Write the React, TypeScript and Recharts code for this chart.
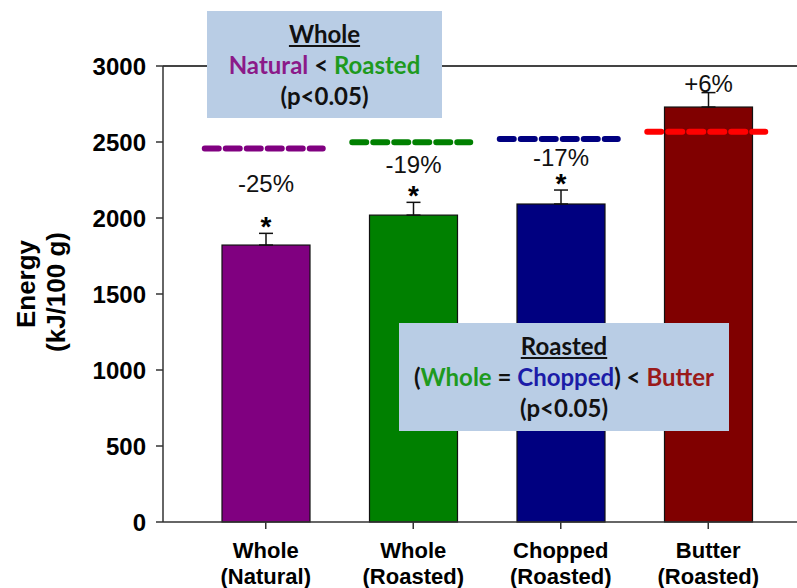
import React from 'react';
import { ComposedChart, Bar, XAxis, YAxis, ErrorBar, Scatter, ReferenceLine, Cell } from 'recharts';

// ---- data ----
const categoryTop = ['Whole', 'Whole', 'Chopped', 'Butter'];
const categoryBottom = ['(Natural)', '(Roasted)', '(Roasted)', '(Roasted)'];
const energyValues = [1822, 2019, 2092, 2730];
const semValues = [77, 84, 92, 95];
const referenceValues = [2458, 2498, 2519, 2568];
const changeLabels = ['-25%', '-19%', '-17%', '+6%'];
const significant = [true, true, true, false];
const yTicks = [0, 500, 1000, 1500, 2000, 2500, 3000];

// ---- styles ----
const barColors = ['#800080', '#008000', '#000080', '#800000'];
const refColors = ['#800080', '#008000', '#000080', '#ff0000'];
const AXIS_FONT = '"Liberation Sans", Arial, sans-serif';
const BOX_FONT = 'Lato, "Open Sans", sans-serif';

const data = categoryTop.map((c, i) => ({
  name: `${c} ${categoryBottom[i]}`,
  top: c,
  bottom: categoryBottom[i],
  energy: energyValues[i],
  err: [0, semValues[i]],
  sem: semValues[i],
  ref: referenceValues[i],
  change: changeLabels[i],
  sig: significant[i],
  idx: i,
}));

const XTick = (props: any) => {
  const { x, y, payload } = props;
  const d = data.find((e) => e.name === payload.value);
  return (
    <text textAnchor="middle" fontFamily={AXIS_FONT} fontWeight="bold" fontSize={22} fill="#000">
      <tspan x={x} y={y + 27}>{d?.top}</tspan>
      <tspan x={x} y={y + 53}>{d?.bottom}</tspan>
    </text>
  );
};

const BarShape = (props: any) => {
  const { x, y, width, height, payload } = props;
  const unit = height / payload.energy;
  const base = y + height;
  const toPix = (v: number) => base - v * unit;
  const capY = toPix(payload.energy + payload.sem);
  const refY = toPix(payload.ref);
  const cx = x + width / 2;
  let pctY: number;
  let star = null;
  if (payload.sig) {
    const starBase = capY + 3;
    const starCenter = starBase - 16;
    pctY = (refY + starCenter) / 2 + 7.5;
    star = (
      <text x={cx} y={starBase} textAnchor="middle" fontFamily={AXIS_FONT} fontWeight="bold" fontSize={28} fill="#000">*</text>
    );
  } else {
    pctY = capY - 1;
  }
  return (
    <g>
      <rect x={x} y={y} width={width} height={height} fill={barColors[payload.idx]} stroke="#111" strokeWidth={1.2} />
      {star}
      <text x={cx} y={pctY} textAnchor="middle" fontFamily={AXIS_FONT} fontSize={24} fill="#111">{payload.change}</text>
    </g>
  );
};

const RefShape = (props: any) => {
  const { cx, cy, payload } = props;
  return (
    <line
      x1={cx - 61}
      x2={cx + 57}
      y1={cy}
      y2={cy}
      stroke={refColors[payload.idx]}
      strokeWidth={6}
      strokeDasharray="14 7"
      strokeLinecap="round"
    />
  );
};

const YLabel = () => (
  <g>
    <text
      x={26}
      y={284}
      transform="rotate(-90, 26, 284)"
      textAnchor="middle"
      dominantBaseline="central"
      fontFamily={AXIS_FONT}
      fontWeight="bold"
      fontSize={26}
      fill="#000"
    >
      Energy
    </text>
    <text
      x={56}
      y={292}
      transform="rotate(-90, 56, 292)"
      textAnchor="middle"
      dominantBaseline="central"
      fontFamily={AXIS_FONT}
      fontWeight="bold"
      fontSize={26}
      fill="#000"
    >
      (kJ/100 g)
    </text>
  </g>
);

const boxStyle: React.CSSProperties = {
  position: 'absolute',
  background: '#b9cde5',
  fontFamily: BOX_FONT,
  fontWeight: 700,
  fontSize: 24,
  textAlign: 'center',
  color: '#111',
  boxSizing: 'border-box',
  paddingTop: 7,
  lineHeight: '31px',
};

export default function App() {
  return (
    <div style={{ position: 'absolute', left: 0, top: 0, width: 797, height: 588, overflow: 'hidden', background: '#fff' }}>
      <ComposedChart width={840} height={588} data={data} margin={{ top: 66, right: 0, bottom: 0, left: 0 }}>
        <XAxis
          dataKey="name"
          type="category"
          height={66}
          padding={{ left: 29, right: 58 }}
          tickSize={7}
          tick={<XTick />}
          axisLine={{ stroke: '#333', strokeWidth: 1.5 }}
          tickLine={{ stroke: '#333', strokeWidth: 1.5 }}
          interval={0}
        />
        <YAxis
          width={163}
          domain={[0, 3000]}
          ticks={yTicks}
          tickSize={7}
          tickMargin={10}
          tick={{ fontFamily: AXIS_FONT, fontWeight: 'bold', fontSize: 24, fill: '#000' }}
          axisLine={{ stroke: '#333', strokeWidth: 1.5 }}
          tickLine={{ stroke: '#333', strokeWidth: 1.5 }}
          label={<YLabel />}
        />
        <ReferenceLine y={3000} stroke="#444" strokeWidth={2} />
        <Bar dataKey="energy" barSize={88} shape={<BarShape />} isAnimationActive={false}>
          <ErrorBar dataKey="err" width={7} stroke="#111" strokeWidth={1.5} direction="y" />
        </Bar>
        <Scatter dataKey="ref" shape={<RefShape />} isAnimationActive={false}>
          {data.map((d) => (
            <Cell key={d.idx} fill={refColors[d.idx]} />
          ))}
        </Scatter>
      </ComposedChart>
      <div style={{ ...boxStyle, left: 207, top: 11, width: 235, height: 107 }}>
        <div style={{ textDecoration: 'underline' }}>Whole</div>
        <div>
          <span style={{ color: '#8b1a89' }}>Natural</span> &lt; <span style={{ color: '#1e9a1e' }}>Roasted</span>
        </div>
        <div>(p&lt;0.05)</div>
      </div>
      <div style={{ ...boxStyle, left: 399, top: 323, width: 330, height: 108 }}>
        <div style={{ textDecoration: 'underline' }}>Roasted</div>
        <div>
          (<span style={{ color: '#1e9a1e' }}>Whole</span> = <span style={{ color: '#1c1ca8' }}>Chopped</span>) &lt;{' '}
          <span style={{ color: '#9a1a1a' }}>Butter</span>
        </div>
        <div>(p&lt;0.05)</div>
      </div>
    </div>
  );
}
